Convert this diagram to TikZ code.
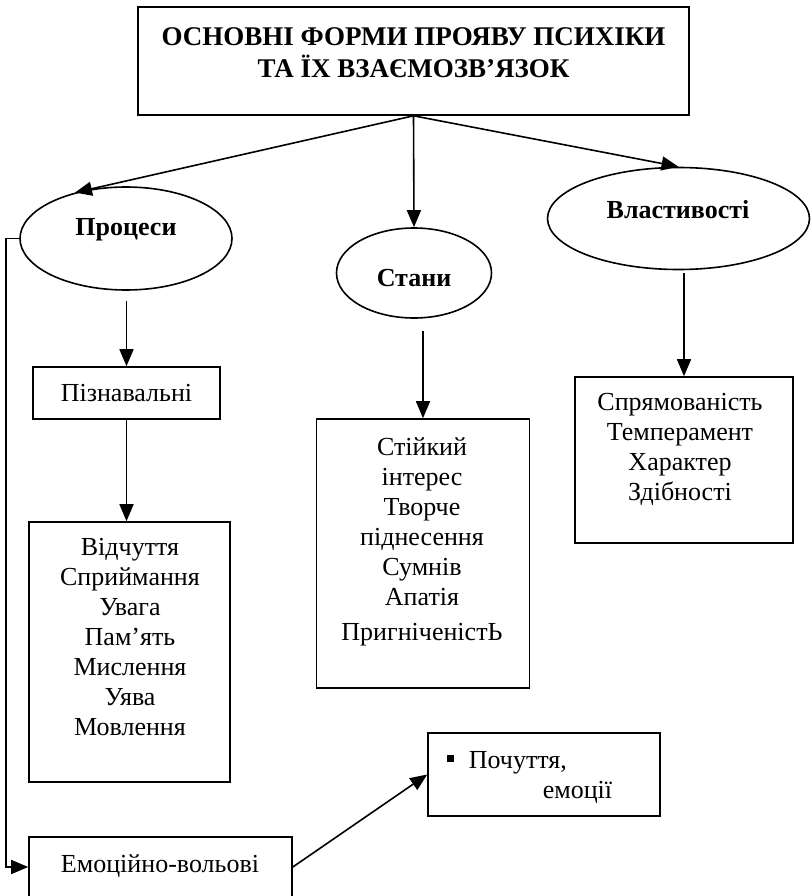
\documentclass[tikz,border=0pt]{standalone}
\usepackage{fontspec}
\setmainfont{Liberation Serif}
\usetikzlibrary{arrows.meta,shapes.geometric}
\begin{document}
\begin{tikzpicture}[x=1pt,y=-1pt,
  line width=1.6pt,
  box/.style={draw, rectangle, inner sep=0pt},
  oval/.style={draw, ellipse, inner sep=0pt},
  txt/.style={inner sep=0pt, font=\fontsize{26}{30}\selectfont},
  btxt/.style={inner sep=0pt, font=\bfseries\fontsize{26}{32}\selectfont},
  lst/.style={txt, align=center, anchor=north},
  arr/.style={-{Triangle[length=17pt,width=14pt]}}]
\useasboundingbox (0,0) rectangle (811,896);
\clip (0,0) rectangle (811,896);
\fill[white] (0,0) rectangle (811,896);

% boxes and ovals
\node[box, minimum width=551pt, minimum height=108pt] (title) at (413.5,61) {};
\node[oval, minimum width=212pt, minimum height=103pt] (pr) at (126,238.5) {};
\node[oval, minimum width=155pt, minimum height=90pt] (st) at (414,273) {};
\node[oval, minimum width=262pt, minimum height=102pt] (vl) at (678.5,218.5) {};
\node[box, minimum width=187pt, minimum height=52pt] (pz) at (126.5,393) {};
\node[box, minimum width=201pt, minimum height=260pt] (lb) at (129.5,652) {};
\node[box, minimum width=213pt, minimum height=269pt] (mid) at (423,553.5) {};
\node[box, minimum width=218pt, minimum height=166pt] (rb) at (684,460) {};
\node[box, minimum width=263pt, minimum height=70pt] (ev) at (160.5,872) {};
\node[box, minimum width=232pt, minimum height=83pt] (pc) at (544,774.5) {};

% texts
\node[btxt, font=\bfseries\fontsize{27}{32}\selectfont, align=center, anchor=north] (ttl) at (413.5,27) {ОСНОВНІ ФОРМИ ПРОЯВУ ПСИХІКИ\\ТА ЇХ ВЗАЄМОЗВ’ЯЗОК};
\node[btxt, anchor=base] (tpr) at (126,235) {Процеси};
\node[btxt, anchor=base] (tst) at (414,286) {Стани};
\node[btxt, anchor=base] (tvl) at (678,218) {Властивості};
\node[txt, anchor=base] (tpz) at (126.5,401) {Пізнавальні};
\node[lst] (tlb) at (130,537) {Відчуття\\Сприймання\\Увага\\Пам’ять\\Мислення\\Уява\\Мовлення};
\node[lst] (tmid) at (422,437) {Стійкий\\інтерес\\Творче\\піднесення\\Сумнів\\Апатія\\[5pt]ПригніченістЬ};
\node[lst] (trb) at (680,392) {Спрямованість\\Темперамент\\Характер\\Здібності};
\node[txt, anchor=base] (tev) at (160,872) {Емоційно-вольові};
\node[fill, rectangle, inner sep=0pt, minimum size=7pt] (bul) at (450,758) {};
\node[txt, anchor=base west] (tpc1) at (468,768) {Почуття,};
\node[txt, anchor=base west] (tpc2) at (542,798) {емоції};

% connectors
\draw[arr] (title.south) -- (pr.138);
\draw[arr] (title.south) -- (st.north);
\draw[arr] (title.south) -- (vl.north);
\draw[arr, shorten <=10pt] (pz.north |- pr.south) -- (pz.north);
\draw[arr] (pz.south) -- (pz.south |- lb.north);
\draw[arr, shorten <=12pt] (mid.north |- st.south) -- (mid.north);
\draw[arr, shorten <=3pt] (rb.north |- vl.south) -- (rb.north);
\coordinate (evin) at ([yshift=5pt]ev.west);
\coordinate (evout) at ([yshift=5pt]ev.east);
\draw[arr] (pr.west) -- ++(-13,0) |- (evin);
\draw[arr] (evout) -- (pc.west);
\end{tikzpicture}
\end{document}
